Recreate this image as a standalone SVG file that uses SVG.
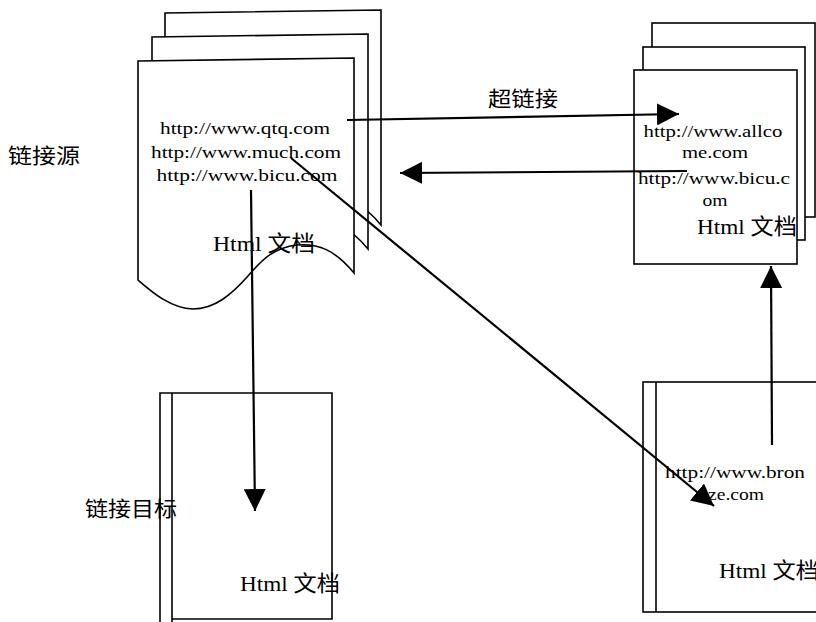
<svg xmlns="http://www.w3.org/2000/svg" width="816" height="622" viewBox="0 0 816 622">
<style>
.pg{fill:#fff;stroke:#000;stroke-width:1.6}
.ln{fill:none;stroke:#000;stroke-width:1.6}
.url{font-family:"Liberation Serif","Noto Sans CJK SC",serif;font-size:16.5px;fill:#000}
.doc{font-family:"Liberation Serif","Noto Sans CJK SC",serif;font-size:22px;fill:#000}
.lbl{font-family:"Noto Sans CJK SC","Liberation Sans",sans-serif;font-size:21px;fill:#000}
.arr{fill:none;stroke:#000;stroke-width:2.2;marker-end:url(#ah)}
</style>
<defs>
<marker id="ah" markerUnits="userSpaceOnUse" viewBox="0 0 22 22" refX="22" refY="11" markerWidth="22" markerHeight="22" orient="auto">
<path d="M0,0 L22,11 L0,22 Z" fill="#000"/>
</marker>
<path id="wave" d="M138,61 L354,58 L354,273 C335,250 318,243 297,245 C270,248 258,265 248,276 C232,294 215,309 193,309 C170,308 152,292 138,280 Z"/>
</defs>

<g id="source-doc">
<use href="#wave" class="pg" transform="translate(27,-48)"/>
<use href="#wave" class="pg" transform="translate(14,-24)"/>
<use href="#wave" class="pg"/>
<text class="url" x="245" y="134" text-anchor="middle" textLength="170" lengthAdjust="spacingAndGlyphs">http://www.qtq.com</text>
<text class="url" x="246" y="158" text-anchor="middle" textLength="190" lengthAdjust="spacingAndGlyphs">http://www.much.com</text>
<text class="url" x="247" y="181" text-anchor="middle" textLength="181" lengthAdjust="spacingAndGlyphs">http://www.bicu.com</text>
<text class="doc" x="213" y="251" textLength="102" lengthAdjust="spacingAndGlyphs">Html 文档</text>
</g>

<g id="allcome-doc">
<rect class="pg" x="652" y="23" width="163" height="194"/>
<rect class="pg" x="643" y="47" width="162" height="193"/>
<rect class="pg" x="634" y="70" width="163" height="194"/>
<text class="url" x="713" y="137" text-anchor="middle" textLength="139" lengthAdjust="spacingAndGlyphs">http://www.allco</text>
<text class="url" x="715" y="158" text-anchor="middle" textLength="66" lengthAdjust="spacingAndGlyphs">me.com</text>
<text class="url" x="714" y="184" text-anchor="middle" textLength="152" lengthAdjust="spacingAndGlyphs">http://www.bicu.c</text>
<text class="url" x="715" y="206" text-anchor="middle" textLength="25" lengthAdjust="spacingAndGlyphs">om</text>
<text class="doc" x="697" y="234" textLength="100" lengthAdjust="spacingAndGlyphs">Html 文档</text>
</g>

<g id="target-doc">
<path class="ln" d="M160,622 L160,393 L332,393 L332,619 L172,619"/>
<line class="ln" x1="172" y1="393" x2="172" y2="622"/>
<text class="doc" x="240" y="591" textLength="100" lengthAdjust="spacingAndGlyphs">Html 文档</text>
</g>

<g id="bronze-doc">
<rect class="pg" x="643" y="382" width="200" height="230"/>
<line class="ln" x1="656" y1="382" x2="656" y2="612"/>
<text class="url" x="735" y="478" text-anchor="middle" textLength="140" lengthAdjust="spacingAndGlyphs">http://www.bron</text>
<text class="url" x="736" y="500" text-anchor="middle" textLength="56" lengthAdjust="spacingAndGlyphs">ze.com</text>
<text class="doc" x="719" y="578" textLength="100" lengthAdjust="spacingAndGlyphs">Html 文档</text>
</g>

<g id="labels">
<text class="lbl" x="8" y="163" textLength="72" lengthAdjust="spacingAndGlyphs">链接源</text>
<text class="lbl" x="488" y="106" textLength="70" lengthAdjust="spacingAndGlyphs">超链接</text>
<text class="lbl" x="85" y="516" textLength="92" lengthAdjust="spacingAndGlyphs">链接目标</text>
</g>

<g id="connectors">
<line class="arr" x1="347" y1="120" x2="679" y2="114"/>
<line class="arr" x1="687" y1="171" x2="400" y2="173"/>
<line class="arr" x1="291" y1="158" x2="714" y2="506"/>
<line class="arr" x1="251" y1="190" x2="255" y2="511"/>
<line class="arr" x1="772" y1="445" x2="771" y2="266"/>
</g>
</svg>
